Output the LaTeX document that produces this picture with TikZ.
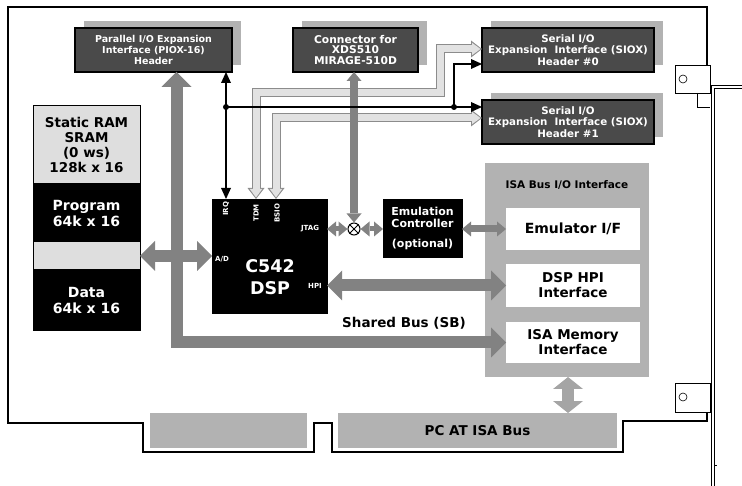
\documentclass[tikz,border=0pt]{standalone}
\usepackage{fontspec}
\setmainfont{DejaVu Sans}
\usetikzlibrary{arrows.meta, positioning, backgrounds}
\definecolor{HDRgrey}{RGB}{74,74,74}
\definecolor{SHDgrey}{RGB}{178,178,178}
\definecolor{BUSgrey}{RGB}{130,130,130}
\definecolor{VBUSgrey}{RGB}{165,165,165}
\definecolor{LTfill}{RGB}{226,226,226}
\definecolor{LTline}{RGB}{140,140,140}
\definecolor{SRAMgrey}{RGB}{222,222,222}
\newcommand{\bfsz}[2]{\fontsize{#1}{#2}\selectfont\bfseries}

\tikzset{
  bigtip/.tip={Triangle[width=30pt,length=15pt,line width=0pt]},
  vtip/.tip={Triangle[width=30pt,length=12pt,line width=0pt]},
  midtip/.tip={Triangle[width=15pt,length=9pt,line width=0pt]},
  ctltip/.tip={Triangle[width=10pt,length=11pt,line width=0pt]},
  lotip/.tip={Triangle[width=17pt,length=11pt,line width=0pt]},
  litip/.tip={Triangle[width=12.5pt,length=8.5pt,line width=0pt]},
  box/.style={anchor=north west, inner sep=0pt, outer sep=0pt, align=center},
  hdr/.style={box, draw=black, line width=1.5pt, fill=HDRgrey, text=white, minimum height=44pt},
  blk/.style={box, draw=black, fill=black, text=white},
  wht/.style={box, fill=white, minimum width=134pt},
  pinlbl/.style={font=\bfsz{7}{8}, text=white, inner sep=0pt},
  bigbus/.style={draw=BUSgrey, line width=12pt, line join=miter, bigtip-bigtip},
  vbus/.style={draw=VBUSgrey, line width=12pt, vtip-vtip},
  midbus/.style={draw=BUSgrey, line width=#1, midtip-midtip},
  lightout/.style={draw=LTline, line width=9pt, line join=miter, lotip-lotip},
  lightin/.style={draw=LTfill, line width=7pt, line join=miter, shorten >=1.5pt, shorten <=1.5pt, litip-litip},
  ctl/.style={draw=black, line width=1.6pt, -ctltip}
}

\begin{document}
\begin{tikzpicture}[x=1pt, y=-1pt]
  \useasboundingbox (0,0) rectangle (742,486);

  % board outline, brackets
  \draw[line width=1.3pt, line join=miter]
    (707,65) -- (707,7) -- (8,7) -- (8,423) -- (143,423) -- (143,452) -- (314,452)
    -- (314,423) -- (332,423) -- (332,452) -- (623,452) -- (623,421) -- (707,421) -- (707,412);
  \draw[line width=0.8pt] (675,65) rectangle (710,93) (697,93) -- (697,107) -- (710,107);
  \draw[line width=0.8pt] (675,383) rectangle (710,412);
  \draw[line width=0.6pt] (683,79) circle (4pt) (683,397) circle (4pt);
  \draw[line width=0.8pt] (742,85) -- (711,85) -- (711,486) (742,88) -- (714,88) -- (714,486) (714,465) -- (717,465);

  % edge connector
  \node[box, fill=SHDgrey, minimum width=157pt, minimum height=35pt] (pcl) at (150,413) {};
  \node[box, fill=SHDgrey, minimum width=279pt, minimum height=35pt, font=\bfsz{13.5}{15}] (pcbus) at (338,413) {PC AT ISA Bus};

  % ISA bus I/O interface
  \node[box, fill=SHDgrey, minimum width=164pt, minimum height=214pt] (isaio) at (485,163) {};
  \node[font=\bfsz{10.5}{12}] (isatitle) at (567,185) {ISA Bus I/O Interface};
  \node[wht, minimum height=42pt, font=\bfsz{14}{15}] (emuif) at (506,208) {Emulator I/F};
  \node[wht, minimum height=43pt, font=\bfsz{13.5}{15}] (hpiif) at (506,264) {DSP HPI\\Interface};
  \node[wht, minimum height=41pt, font=\bfsz{13.5}{15}] (memif) at (506,322) {ISA Memory\\Interface};

  % headers
  \node[hdr, minimum width=157pt, font=\bfsz{9.5}{11}] (piox) at (75,28) {Parallel I/O Expansion\\Interface (PIOX-16)\\Header};
  \node[hdr, minimum width=125pt, font=\bfsz{10.7}{10.5}] (xds) at (293,28) {Connector for\\XDS510\\MIRAGE-510D};
  \node[hdr, minimum width=172pt, font=\bfsz{10.3}{11.5}] (siox0) at (482,28) {Serial I/O\\Expansion\ \ Interface (SIOX)\\Header \#0};
  \node[hdr, minimum width=172pt, font=\bfsz{10.3}{11.5}] (siox1) at (482,100) {Serial I/O\\Expansion\ \ Interface (SIOX)\\Header \#1};
  \begin{scope}[on background layer]
    \foreach \n in {piox,xds,siox0,siox1}
      \fill[SHDgrey] ([shift={(9,-7)}]\n.south west) rectangle ([shift={(9,-7)}]\n.north east);
  \end{scope}

  % SRAM
  \node[box, draw=black, line width=1pt, fill=SRAMgrey, minimum width=107pt, minimum height=78pt, font=\bfsz{13.5}{15}] (sram) at (33,106) {Static RAM\\SRAM\\(0 ws)\\128k x 16};
  \node[blk, below=0pt of sram, minimum width=107pt, minimum height=58pt, font=\bfsz{14}{16}] (prog) {Program\\64k x 16};
  \node[box, draw=black, line width=1pt, fill=SRAMgrey, below=0pt of prog, minimum width=107pt, minimum height=28pt] (gap) {};
  \node[blk, below=0pt of gap, minimum width=107pt, minimum height=60pt, font=\bfsz{14}{16}] (data) {Data\\64k x 16};

  % DSP
  \node[blk, minimum width=115pt, minimum height=114pt] (dsp) at (212,199) {};
  \node[font=\bfsz{17.5}{22}, text=white, align=center] (dspname) at (270,277) {C542\\DSP};
  \node[pinlbl, rotate=90] (irq) at (226,209) {IRQ};
  \node[pinlbl, rotate=90] (tdmlbl) at (256,213) {TDM};
  \node[pinlbl, rotate=90] (bsiolbl) at (277,213) {BSIO};
  \node[pinlbl] (adlbl) at (222,259) {A/D};
  \node[pinlbl] (jtaglbl) at (310,229) {JTAG};
  \node[pinlbl] (hpilbl) at (315,286) {HPI};

  % emulation
  \node[blk, minimum width=79pt, minimum height=58pt, font=\bfsz{11}{12}] (emu) at (383,199) {Emulation\\Controller\\[8pt](optional)};
  \node[circle, draw, line width=1pt, minimum size=12pt, inner sep=0pt, fill=white] (xor) at (354,229) {};
  \draw[line width=1pt] (xor.45) -- (xor.225) (xor.135) -- (xor.315);

  \node[font=\bfsz{13.5}{15}] (sblbl) at (404,323) {Shared Bus (SB)};

  \coordinate (busx) at (176.5,0);
  \coordinate (vbx) at (568,0);
  \coordinate (tdm) at (256,93);
  \coordinate (tdmr) at (440,49);
  \coordinate (bsio) at (276,118);
  \coordinate (j1) at (226,107);
  \coordinate (j2) at (454,107);
  \coordinate (j3) at (454,64);

  % serial links
  \foreach \ly in {lightout, lightin} {
    \draw[\ly] (dsp.north -| tdm) -- (tdm) -| (tdmr) -- (siox0.west |- tdmr);
    \draw[\ly] (dsp.north -| bsio) |- (siox1.west |- bsio);
  }

  % buses
  \draw[bigbus] (piox.south -| busx) |- (memif.west);
  \draw[bigbus] (gap.east) -- (gap.east -| dsp.west);
  \draw[bigbus] (dsp.east |- hpiif.west) -- (hpiif.west);
  \draw[vbus] (isaio.south -| vbx) -- (pcbus.north -| vbx);
  \draw[midbus=8pt] (xds.south -| xor) -- (xor.north);
  \draw[midbus=5pt] (dsp.east |- xor) -- (xor.west);
  \draw[midbus=5pt] (xor.east) -- (emu.west |- xor);
  \draw[midbus=7pt] (emu.east |- emuif.west) -- (emuif.west);

  % control lines
  \draw[ctl] (j1) -- (piox.south -| j1);
  \draw[ctl] (j1) -- (dsp.north -| j1);
  \draw[ctl] (j1) -- (siox1.west |- j1);
  \draw[ctl] (j2) |- (siox0.west |- j3);
  \fill (j1) circle (3pt) (j2) circle (3pt);
\end{tikzpicture}
\end{document}
